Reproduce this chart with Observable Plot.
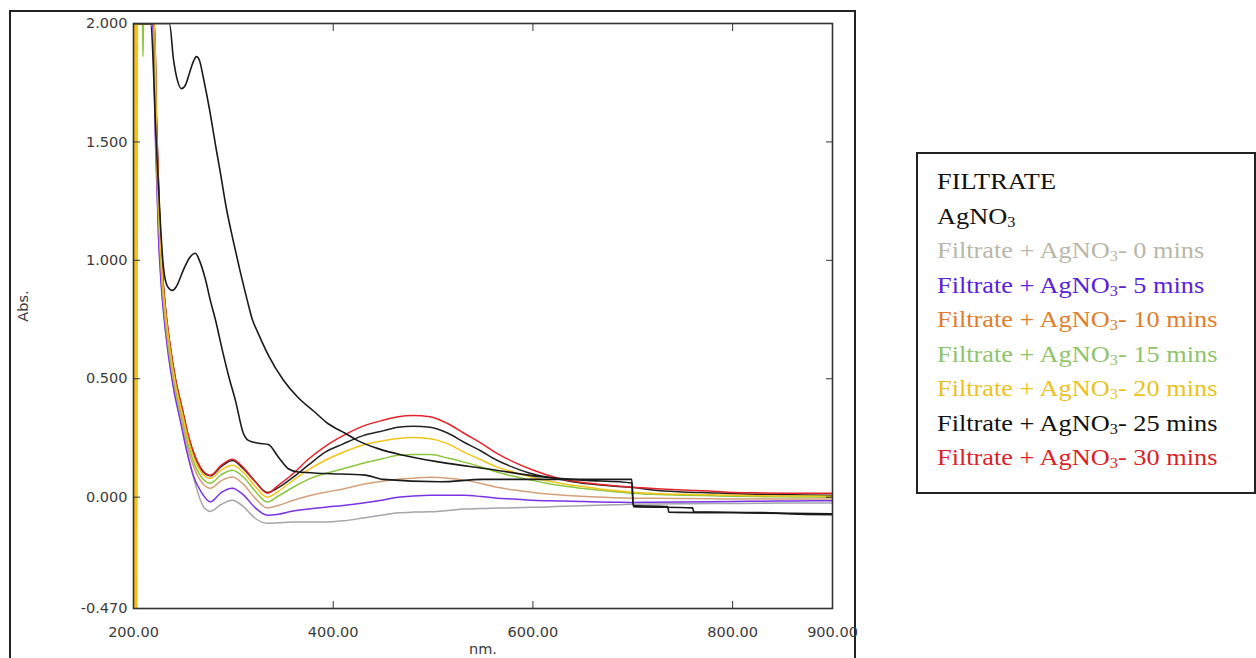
<!DOCTYPE html>
<html><head><meta charset="utf-8">
<script src="https://cdn.jsdelivr.net/npm/d3@7"></script>
<script src="https://cdn.jsdelivr.net/npm/@observablehq/plot@0.6"></script>
<style>
body{margin:0;background:#fff;}
#wrap{position:relative;width:1256px;height:658px;overflow:hidden;background:#fff;}
#outer{position:absolute;left:9px;top:10px;width:847px;height:700px;border:2px solid #222;box-sizing:border-box;}
#legend{position:absolute;left:916px;top:152px;width:340px;height:342px;border:2px solid #222;box-sizing:border-box;background:#fff;padding:11px 0 0 19px;font-family:"Liberation Serif",serif;font-size:22.5px;line-height:34.5px;}
#legend div{transform:scaleX(1.17);transform-origin:left center;white-space:nowrap;height:34.5px;}
#legend sub{font-size:0.62em;vertical-align:-0.18em;line-height:0;}
#chart{position:absolute;left:0;top:0;}
</style></head>
<body>
<div id="wrap">
  <div id="outer"></div>
  <div id="chart"></div>
  <div id="legend"></div>
</div>
<script>
// ---------- data ----------
const seriesNames = ["FILTRATE", "AgNO3", "Filtrate + AgNO3- 0 mins", "Filtrate + AgNO3- 5 mins",
  "Filtrate + AgNO3- 10 mins", "Filtrate + AgNO3- 15 mins", "Filtrate + AgNO3- 20 mins",
  "Filtrate + AgNO3- 25 mins", "Filtrate + AgNO3- 30 mins"];
const legendColors = ["#111111", "#111111", "#b9b7a9", "#5a22dc", "#e07e2c", "#8fc46c", "#ecc21e", "#111111", "#dc1f27"];
const lineColors   = ["#1a1a1a", "#1a1a1a", "#a3a5aa", "#7a32e4", "#d3a07a", "#8cc63f", "#f2c41a", "#222222", "#e3232a"];

const xTicks = [200, 400, 600, 800, 900];
const yTicks = [-0.47, 0, 0.5, 1, 1.5, 2];

// common grid for the mixtures after the UV edge
const grid = [277, 288, 299, 310, 322, 334, 345, 360, 375, 392, 410, 430, 450, 465, 480, 497, 515, 531, 548, 564,
  581, 598, 615, 631, 648, 665, 682, 699, 720, 750, 780, 800, 830, 860, 900];

const nmFiltrate = [200, 236, 240, 244, 248, 252, 256, 260, 263, 266, 270, 276, 282, 287, 293, 300, 307, 314, 319, 324,
  335, 350, 365, 380, 395, 412, 424, 445, 470, 507, 557, 610, 650, 699, 700.5, 735, 736, 800, 900];
const absFiltrate = [2.0, 2.0, 1.85, 1.76, 1.725, 1.74, 1.79, 1.84, 1.86, 1.845, 1.77, 1.64, 1.49, 1.37, 1.22, 1.08, 0.95, 0.83, 0.75, 0.70,
  0.6, 0.495, 0.42, 0.365, 0.31, 0.27, 0.24, 0.205, 0.177, 0.148, 0.118, 0.085, 0.072, 0.06, -0.035, -0.04, -0.063, -0.066, -0.07];

const nmAgNO3 = [200, 217, 223, 227, 230, 234, 239, 243, 250, 256, 262, 266, 272, 277, 282, 289, 296, 302, 310, 315,
  325, 335, 345, 355, 365, 392, 432, 450, 507, 550, 699, 700.5, 760, 761, 830, 868, 900];
const absAgNO3 = [2.0, 2.0, 1.48, 1.15, 0.97, 0.89, 0.873, 0.89, 0.96, 1.01, 1.03, 1.0, 0.92, 0.83, 0.75, 0.62, 0.5, 0.41, 0.27, 0.24,
  0.228, 0.222, 0.17, 0.12, 0.106, 0.10, 0.093, 0.075, 0.065, 0.075, 0.075, -0.04, -0.045, -0.062, -0.065, -0.072, -0.074];

// UV edge part of each mixture (before the grid)
const nmEdge0  = [200, 219.5, 222, 225, 228, 231, 235, 241, 248, 254, 261, 270];
const absEdge0 = [2.0, 2.0, 1.55, 1.12, 0.9, 0.75, 0.6, 0.45, 0.31, 0.19, 0.07, -0.04];
const nmEdge5  = [200, 201, 219, 222, 225, 228, 231, 235, 240, 247, 253, 260, 268];
const absEdge5 = [1.85, 2.0, 2.0, 1.5, 1.1, 0.88, 0.74, 0.6, 0.46, 0.32, 0.2, 0.09, 0.02];
const nmEdge10  = [200, 200.8, 202.5, 203.5, 220, 222.5, 226, 229, 232, 236, 242, 249, 255, 262, 270];
const absEdge10 = [2.0, -0.47, -0.47, 2.0, 2.0, 1.5, 1.1, 0.88, 0.74, 0.6, 0.45, 0.31, 0.2, 0.11, 0.055];
const nmEdge15  = [200, 209, 209.5, 210, 220, 222.5, 226, 229, 232, 236, 242, 249, 255, 262, 270];
const absEdge15 = [2.0, 2.0, 1.86, 2.0, 2.0, 1.55, 1.12, 0.9, 0.76, 0.62, 0.46, 0.33, 0.22, 0.13, 0.075];
const nmEdge20  = [200, 200.4, 201, 201.5, 202, 202.5, 203, 203.5, 204, 221, 223, 226, 229, 232, 236, 242, 249, 255, 262, 270];
const absEdge20 = [2.0, -0.47, 2.0, -0.47, 2.0, -0.47, 2.0, -0.47, 2.0, 2.0, 1.55, 1.15, 0.92, 0.78, 0.64, 0.48, 0.35, 0.24, 0.15, 0.095];
const nmEdge25  = [200, 221, 223, 226, 229, 232, 236, 242, 249, 255, 262, 270];
const absEdge25 = [2.0, 2.0, 1.6, 1.2, 0.95, 0.8, 0.66, 0.5, 0.37, 0.255, 0.165, 0.105];
const nmEdge30  = [200, 221, 223, 226, 229, 232, 236, 242, 249, 255, 262, 270];
const absEdge30 = [2.0, 2.0, 1.6, 1.2, 0.95, 0.8, 0.66, 0.5, 0.37, 0.26, 0.17, 0.11];

// values on the common grid
const abs0  = [-0.06, -0.03, -0.013, -0.04, -0.09, -0.11, -0.108, -0.105, -0.105, -0.105, -0.1, -0.088, -0.075, -0.066, -0.063, -0.062, -0.056, -0.05, -0.048, -0.046,
  -0.045, -0.043, -0.041, -0.038, -0.036, -0.034, -0.032, -0.03, -0.029, -0.028, -0.027, -0.027, -0.026, -0.025, -0.025];
const abs5  = [-0.02, 0.02, 0.038, 0.01, -0.045, -0.076, -0.072, -0.058, -0.05, -0.042, -0.035, -0.025, -0.012, 0.0, 0.005, 0.008, 0.008, 0.008, 0.003, -0.004,
  -0.008, -0.013, -0.015, -0.016, -0.018, -0.02, -0.021, -0.022, -0.021, -0.02, -0.019, -0.018, -0.017, -0.016, -0.015];
const abs10 = [0.038, 0.07, 0.085, 0.055, -0.005, -0.046, -0.035, -0.013, 0.005, 0.021, 0.035, 0.055, 0.068, 0.076, 0.08, 0.084, 0.08, 0.072, 0.058, 0.042,
  0.03, 0.021, 0.013, 0.008, 0.004, 0.001, -0.002, -0.004, -0.005, -0.006, -0.007, -0.008, -0.008, -0.008, -0.008];
const abs15 = [0.059, 0.095, 0.114, 0.085, 0.025, -0.02, 0.005, 0.042, 0.075, 0.10, 0.12, 0.143, 0.163, 0.177, 0.18, 0.18, 0.165, 0.148, 0.128, 0.106,
  0.088, 0.072, 0.058, 0.047, 0.038, 0.03, 0.023, 0.017, 0.012, 0.008, 0.006, 0.004, 0.002, 0.001, 0.0];
const abs20 = [0.08, 0.115, 0.135, 0.105, 0.045, 0.0, 0.025, 0.072, 0.115, 0.156, 0.19, 0.22, 0.238, 0.248, 0.252, 0.247, 0.225, 0.19, 0.158, 0.127,
  0.105, 0.085, 0.068, 0.056, 0.046, 0.036, 0.028, 0.021, 0.016, 0.012, 0.01, 0.008, 0.006, 0.005, 0.004];
const abs25 = [0.09, 0.13, 0.155, 0.12, 0.065, 0.02, 0.04, 0.085, 0.135, 0.19, 0.225, 0.26, 0.28, 0.295, 0.30, 0.295, 0.27, 0.232, 0.195, 0.156,
  0.125, 0.10, 0.085, 0.072, 0.06, 0.052, 0.046, 0.042, 0.03, 0.022, 0.018, 0.015, 0.012, 0.01, 0.008];
const abs30 = [0.093, 0.135, 0.16, 0.125, 0.065, 0.017, 0.05, 0.10, 0.16, 0.215, 0.26, 0.30, 0.325, 0.34, 0.345, 0.34, 0.31, 0.27, 0.228, 0.185,
  0.148, 0.118, 0.093, 0.075, 0.063, 0.055, 0.048, 0.042, 0.037, 0.03, 0.025, 0.02, 0.018, 0.017, 0.017];

// ---------- build tables ----------
const toRows = (nm, ab) => nm.map((x, i) => ({nm: x, abs: ab[i]}));
const mix = (nmE, abE, ab) => toRows(nmE.concat(grid), abE.concat(ab));
const series = [
  toRows(nmFiltrate, absFiltrate),
  toRows(nmAgNO3, absAgNO3),
  mix(nmEdge0, absEdge0, abs0),
  mix(nmEdge5, absEdge5, abs5),
  mix(nmEdge10, absEdge10, abs10),
  mix(nmEdge15, absEdge15, abs15),
  mix(nmEdge20, absEdge20, abs20),
  mix(nmEdge25, absEdge25, abs25),
  mix(nmEdge30, absEdge30, abs30)
];
const drawOrder = [2, 3, 4, 5, 7, 8, 6, 0, 1];
const fmt = n => d => d.toFixed(n);

const chart = Plot.plot({
  width: 1256, height: 658,
  marginLeft: 133, marginRight: 424, marginTop: 23, marginBottom: 50,
  style: {fontFamily: "DejaVu Sans, sans-serif", fontSize: "14.5px", color: "#3a3a3a", background: "transparent"},
  x: {domain: [200, 900]},
  y: {domain: [-0.47, 2.0]},
  marks: [
    ...drawOrder.map(i => Plot.line(series[i], {x: "nm", y: "abs", stroke: lineColors[i], strokeWidth: i < 2 ? 1.6 : 1.5, curve: "monotone-x", clip: true})),
    Plot.frame({stroke: "#333", strokeWidth: 1.6}),
    Plot.axisX(xTicks, {anchor: "bottom", tickSize: -7, tickPadding: 25, tickFormat: fmt(2), label: null, stroke: "#333"}),
    Plot.axisX(xTicks, {anchor: "top", tickSize: -7, tickFormat: () => "", label: null, stroke: "#333"}),
    Plot.axisY(yTicks, {anchor: "left", tickSize: -7, tickPadding: 13, tickFormat: fmt(3), label: null, stroke: "#333"}),
    Plot.axisY(yTicks, {anchor: "right", tickSize: -7, tickFormat: () => "", label: null, stroke: "#333"}),
    Plot.text(["nm."], {frameAnchor: "bottom", dy: 45, fill: "#3a3a3a"}),
    Plot.text(["Abs."], {frameAnchor: "left", textAnchor: "middle", dx: -110, dy: -10, rotate: -90, fill: "#3a3a3a"})
  ]
});
document.getElementById("chart").appendChild(chart);

// legend
const leg = document.getElementById("legend");
seriesNames.forEach((name, i) => {
  const d = document.createElement("div");
  d.style.color = legendColors[i];
  d.innerHTML = name.replace("AgNO3", "AgNO<sub>3</sub>");
  leg.appendChild(d);
});
</script>
</body></html>
